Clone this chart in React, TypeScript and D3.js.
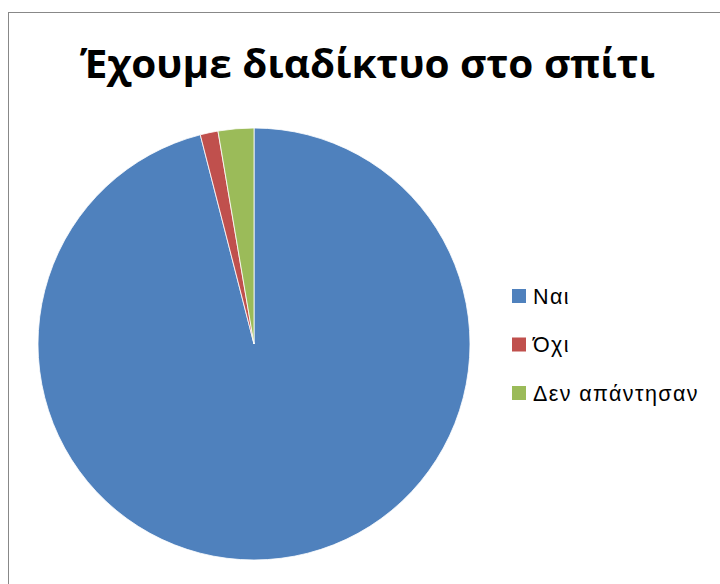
import React from "react";
import * as d3 from "d3";

const categories = ["Ναι", "Όχι", "Δεν απάντησαν"];
const values = [72, 1, 2];
const colors = ["#4F81BD", "#C0504D", "#9BBB59"];
const title = "Έχουμε διαδίκτυο στο σπίτι";

export default function App() {
  const width = 720;
  const height = 584;
  const cx = 254;
  const cy = 344;
  const r = 216;
  const pie = d3.pie<number>().sort(null).value((d) => d);
  const arcs = pie(values);
  const arc = d3.arc<d3.PieArcDatum<number>>().innerRadius(0).outerRadius(r);
  const legendY = d3.scalePoint<string>().domain(categories).range([296, 393]);

  return (
    <svg
      width={width}
      height={height}
      style={{ position: "absolute", left: 0, top: 0, background: "#fff" }}
    >
      <rect x={8.5} y={12.5} width={760} height={640} fill="#fff" stroke="#888" strokeWidth={1} />
      <text
        x={80}
        y={78}
        fontFamily="'Open Sans', 'Noto Sans', sans-serif"
        fontWeight="bold"
        fontSize={40}
        textLength={575}
        lengthAdjust="spacingAndGlyphs"
        fill="#000"
      >
        {title}
      </text>
      <g transform={`translate(${cx},${cy})`}>
        {arcs.map((a, i) => (
          <path key={i} d={arc(a) || ""} fill={colors[i]} stroke="#fff" strokeWidth={0.8} />
        ))}
      </g>
      {categories.map((c, i) => (
        <g key={c} transform={`translate(512,${legendY(c)})`}>
          <rect x={0} y={-7} width={14} height={14} fill={colors[i]} />
          <text
            x={21}
            y={7.5}
            fontFamily="'Liberation Sans', Arial, sans-serif"
            fontSize={21.5}
            letterSpacing={1.4}
            fill="#000"
          >
            {c}
          </text>
        </g>
      ))}
    </svg>
  );
}
